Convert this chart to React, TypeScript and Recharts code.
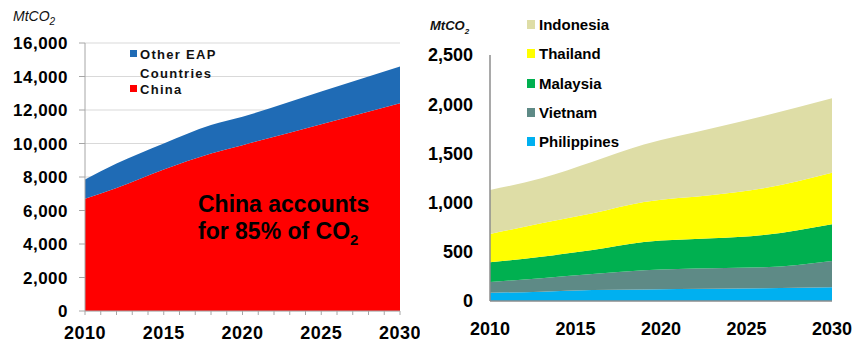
import React from "react";
import { AreaChart, Area, XAxis, YAxis, CartesianGrid, Legend } from "recharts";

// Left panel: East Asia Pacific CO2 emissions (MtCO2)
const eapYears = [2010, 2012, 2015, 2018, 2020, 2025, 2030];
const chinaValues = [6700, 7350, 8450, 9400, 9900, 11150, 12400];
const otherEapValues = [1150, 1450, 1550, 1700, 1700, 1950, 2200];
const eapYTicks = [0, 2000, 4000, 6000, 8000, 10000, 12000, 14000, 16000];

// Right panel: South-East Asian countries (MtCO2)
const seaYears = [2010, 2013, 2016, 2019, 2023, 2026, 2030];
const philippinesValues = [84, 95, 112, 118, 124, 129, 139];
const vietnamValues = [109, 136, 162, 194, 208, 213, 268];
const malaysiaValues = [200, 219, 244, 288, 305, 329, 373];
const thailandValues = [288, 339, 373, 405, 440, 474, 524];
const indonesiaValues = [447, 458, 525, 585, 678, 735, 756];
const seaYTicks = [0, 500, 1000, 1500, 2000, 2500];

const allYears = Array.from({ length: 21 }, (_, i) => 2010 + i);
const fiveYears = [2010, 2015, 2020, 2025, 2030];

const eapData = eapYears.map((year, i) => ({
  year,
  china: chinaValues[i],
  other: otherEapValues[i],
}));

const seaData = seaYears.map((year, i) => ({
  year,
  philippines: philippinesValues[i],
  vietnam: vietnamValues[i],
  malaysia: malaysiaValues[i],
  thailand: thailandValues[i],
  indonesia: indonesiaValues[i],
}));

const seaSeries = [
  { key: "indonesia", name: "Indonesia", color: "#DEDDA6" },
  { key: "thailand", name: "Thailand", color: "#FFFF00" },
  { key: "malaysia", name: "Malaysia", color: "#00B050" },
  { key: "vietnam", name: "Vietnam", color: "#5E8A86" },
  { key: "philippines", name: "Philippines", color: "#00B0F0" },
];

const FONT = "'Liberation Sans', Arial, sans-serif";
const fmt = (v: number) => v.toLocaleString("en-US");

const EapLegend = () => (
  <div style={{ fontFamily: FONT, fontWeight: 700, fontSize: 13, letterSpacing: 1.3, color: "#111", position: "relative", width: 120, height: 60 }}>
    <span style={{ position: "absolute", left: 2, top: 6, width: 7, height: 7, background: "#1F6BB5" }} />
    <div style={{ position: "absolute", left: 12, top: 1, lineHeight: "19px" }}>
      Other EAP
      <br />
      Countries
    </div>
    <span style={{ position: "absolute", left: 2, top: 41, width: 7, height: 7, background: "#FF0000" }} />
    <div style={{ position: "absolute", left: 12, top: 39, lineHeight: "13px" }}>China</div>
  </div>
);

const SeaLegend = () => (
  <div style={{ fontFamily: FONT, fontWeight: 700, fontSize: 15, color: "#000", width: 120 }}>
    {seaSeries.map((s) => (
      <div key={s.key} style={{ display: "flex", alignItems: "center", height: 29.3 }}>
        <span style={{ width: 8, height: 9, background: s.color, marginRight: 4 }} />
        {s.name}
      </div>
    ))}
  </div>
);

export default function App() {
  return (
    <div style={{ position: "absolute", left: 0, top: 0, width: 853, height: 345, background: "#fff", fontFamily: FONT }}>
      {/* left panel */}
      <div style={{ position: "absolute", left: 0, top: 0 }}>
        <div style={{ position: "absolute", left: 13, top: 8, fontStyle: "italic", fontSize: 14, color: "#111" }}>
          MtCO<sub style={{ fontSize: 10 }}>2</sub>
        </div>
        <AreaChart width={420} height={345} data={eapData} margin={{ top: 43, right: 20, left: 0, bottom: 0 }} style={{ overflow: "visible" }}>
          <CartesianGrid horizontal vertical={false} stroke="#D9D9D9" />
          <XAxis
            dataKey="year"
            type="number"
            domain={[2010, 2030]}
            ticks={allYears}
            interval={0}
            height={34}
            tickFormatter={(v: number) => (v % 5 === 0 ? String(v) : "")}
            axisLine={{ stroke: "#A6A6A6" }}
            tickLine={{ stroke: "#A6A6A6" }}
            tickSize={4}
            tickMargin={11}
            tick={{ fontSize: 18, fontWeight: 700, fill: "#000", fontFamily: FONT, letterSpacing: 0.5 }}
          />
          <YAxis
            width={85}
            domain={[0, 16000]}
            ticks={eapYTicks}
            interval={0}
            tickFormatter={fmt}
            axisLine={{ stroke: "#A6A6A6" }}
            tickLine={{ stroke: "#A6A6A6" }}
            tickSize={6}
            tickMargin={11}
            tick={{ fontSize: 17, fontWeight: 700, fill: "#000", fontFamily: FONT, letterSpacing: 0.5 }}
          />
          <Legend layout="vertical" verticalAlign="middle" align="center" wrapperStyle={{ top: 44, left: 128, width: 120 }} content={() => <EapLegend />} />
          <Area type="monotone" dataKey="china" stackId="eap" name="China" fill="#FF0000" stroke="none" fillOpacity={1} isAnimationActive={false} />
          <Area type="monotone" dataKey="other" stackId="eap" name="Other EAP Countries" fill="#1F6BB5" stroke="none" fillOpacity={1} isAnimationActive={false} />
        </AreaChart>
        <div style={{ position: "absolute", left: 198, top: 191, fontSize: 23, fontWeight: 700, color: "#000", lineHeight: "27px", whiteSpace: "nowrap" }}>
          China accounts
          <br />
          for 85% of CO<sub style={{ fontSize: 15 }}>2</sub>
        </div>
      </div>

      {/* right panel */}
      <div style={{ position: "absolute", left: 420, top: 0 }}>
        <div style={{ position: "absolute", left: 10, top: 18, fontStyle: "italic", fontWeight: 700, fontSize: 13, color: "#111" }}>
          MtCO<sub style={{ fontSize: 8 }}>2</sub>
        </div>
        <AreaChart width={433} height={345} data={seaData} margin={{ top: 55, right: 21, left: 0, bottom: 0 }} style={{ overflow: "visible" }}>
          <XAxis
            dataKey="year"
            type="number"
            domain={[2010, 2030]}
            ticks={fiveYears}
            interval={0}
            height={44}
            axisLine={{ stroke: "#8C8C8C", strokeWidth: 1.5 }}
            tickLine={false}
            tickSize={0}
            tickMargin={21}
            tick={{ fontSize: 18, fontWeight: 700, fill: "#000", fontFamily: FONT }}
          />
          <YAxis
            width={70}
            domain={[0, 2500]}
            ticks={seaYTicks}
            interval={0}
            tickFormatter={fmt}
            axisLine={{ stroke: "#8C8C8C", strokeWidth: 1.5 }}
            tickLine={false}
            tickSize={0}
            tickMargin={17}
            tick={{ fontSize: 18, fontWeight: 700, fill: "#000", fontFamily: FONT }}
          />
          <Legend layout="vertical" verticalAlign="middle" align="center" wrapperStyle={{ top: 10, left: 107, width: 120 }} content={() => <SeaLegend />} />
          {[...seaSeries].reverse().map((s) => (
            <Area
              key={s.key}
              type="monotone"
              dataKey={s.key}
              stackId="sea"
              name={s.name}
              fill={s.color}
              stroke="none"
              fillOpacity={1}
              isAnimationActive={false}
            />
          ))}
        </AreaChart>
      </div>
    </div>
  );
}
